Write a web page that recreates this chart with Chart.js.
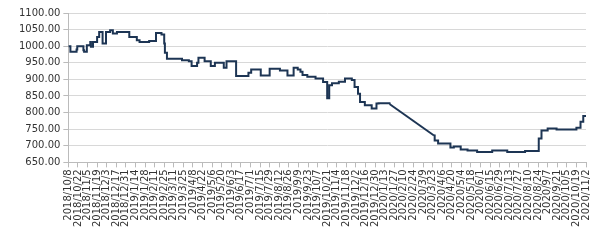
<!DOCTYPE html>
<html>
<head>
<meta charset="utf-8">
<script src="https://cdn.jsdelivr.net/npm/chart.js@4/dist/chart.umd.min.js"></script>
<style>
  html, body { margin: 0; padding: 0; background: #fff; }
  #wrap { width: 600px; height: 243px; position: relative; }
</style>
</head>
<body>
<div id="wrap"><canvas id="priceChart"></canvas></div>
<script>
// Global defaults
Chart.defaults.font.family = 'DejaVu Sans';
Chart.defaults.font.size = 10;
Chart.defaults.color = '#333';

// dates where the price changes level (null value = no data, drawn as a straight line)
const dates = [
    '2018-10-08', '2018-10-11', '2018-10-20', '2018-10-21', '2018-10-30', '2018-10-31',
    '2018-11-04', '2018-11-09', '2018-11-10', '2018-11-13', '2018-11-19', '2018-11-22',
    '2018-11-27', '2018-12-02', '2018-12-08', '2018-12-12', '2018-12-18', '2019-01-05',
    '2019-01-16', '2019-01-20', '2019-02-03', '2019-02-13', '2019-02-21', '2019-02-25',
    '2019-02-26', '2019-03-01', '2019-03-23', '2019-04-02', '2019-04-06', '2019-04-14',
    '2019-04-16', '2019-04-25', '2019-05-04', '2019-05-10', '2019-05-23', '2019-05-27',
    '2019-06-10', '2019-06-28', '2019-07-02', '2019-07-16', '2019-07-29', '2019-08-13',
    '2019-08-24', '2019-09-02', '2019-09-08', '2019-09-12', '2019-09-15', '2019-09-22',
    '2019-10-04', '2019-10-15', '2019-10-21', '2019-10-24', '2019-10-28', '2019-11-07',
    '2019-11-16', '2019-11-26', '2019-11-30', '2019-12-05', '2019-12-08', '2019-12-15',
    '2019-12-25', '2020-01-01', '2020-01-04', '2020-01-20', '2020-02-20', '2020-03-25',
    '2020-03-26', '2020-03-31', '2020-04-18', '2020-04-23', '2020-05-03', '2020-05-13',
    '2020-05-27', '2020-06-18', '2020-07-10', '2020-08-05', '2020-08-25', '2020-08-29',
    '2020-09-07', '2020-09-20', '2020-10-19', '2020-10-25', '2020-10-29', '2020-11-02'
];
const prices = [
    1000, 983, 990, 1000, 988, 983,
    1003, 1013, 998, 1013, 1028, 1043,
    1008, 1043, 1048, 1038, 1043, 1028,
    1018, 1013, 1016, 1040, 1035, 1008,
    980, 962, 958, 955, 940, 950,
    965, 955, 940, 950, 935, 955,
    910, 920, 930, 912, 932, 927,
    912, 935, 930, 923, 913, 908,
    903, 892, 843, 882, 888, 893,
    903, 898, 877, 857, 832, 822,
    812, 827, 828, 826, null, 731,
    716, 707, 695, 698, 689, 686,
    681, 686, 681, 684, 722, 746,
    752, 749, 754, 772, 790, 790
];

const tickLabels = [
    '2018/10/8', '2018/10/22', '2018/11/5', '2018/11/19', '2018/12/3', '2018/12/17', '2018/12/31',
    '2019/1/14', '2019/1/28', '2019/2/11', '2019/2/25', '2019/3/11', '2019/3/25', '2019/4/8',
    '2019/4/22', '2019/5/6', '2019/5/20', '2019/6/3', '2019/6/17', '2019/7/1', '2019/7/15',
    '2019/7/29', '2019/8/12', '2019/8/26', '2019/9/9', '2019/9/23', '2019/10/7', '2019/10/21',
    '2019/11/4', '2019/11/18', '2019/12/2', '2019/12/16', '2019/12/30', '2020/1/13', '2020/1/27',
    '2020/2/10', '2020/2/24', '2020/3/9', '2020/3/23', '2020/4/6', '2020/4/20', '2020/5/4',
    '2020/5/18', '2020/6/1', '2020/6/15', '2020/6/29', '2020/7/13', '2020/7/27', '2020/8/10',
    '2020/8/24', '2020/9/7', '2020/9/21', '2020/10/5', '2020/10/19', '2020/11/2'
];

// days since the first date
function dayOf(str) {
    const p = str.split(/[-\/]/).map(Number);
    const base = Date.UTC(2018, 9, 8);
    return Math.round((Date.UTC(p[0], p[1] - 1, p[2]) - base) / 86400000);
}

const stepPoints = dates.map((d, i) => ({ x: dayOf(d), y: prices[i] }));
const gapIdx = prices.indexOf(null);
const gapLine = [stepPoints[gapIdx - 1], stepPoints[gapIdx + 1]];
const tickDays = tickLabels.map(dayOf);

const lineColor = '#1d3554';

new Chart(document.getElementById('priceChart').getContext('2d'), {
    type: 'line',
    data: {
        datasets: [{
            data: stepPoints,
            stepped: true,
            borderColor: lineColor,
            borderWidth: 2,
            pointRadius: 0,
            spanGaps: false,
        }, {
            data: gapLine,
            borderColor: lineColor,
            borderWidth: 2,
            pointRadius: 0,
            tension: 0,
        }],
    },
    options: {
        responsive: true,
        maintainAspectRatio: false,
        animation: false,
        layout: { padding: { top: 13, right: 6, left: 16, bottom: 14 } },
        plugins: {
            legend: { display: false },
            tooltip: { enabled: false },
        },
        scales: {
            x: {
                type: 'linear',
                min: 0,
                max: tickDays[tickDays.length - 1],
                afterBuildTicks: (scale) => {
                    scale.ticks = tickDays.map(v => ({ value: v }));
                },
                ticks: {
                    autoSkip: false,
                    maxRotation: 90,
                    minRotation: 90,
                    padding: 2,
                    color: '#333',
                    callback: (v) => {
                        const i = tickDays.indexOf(v);
                        return i >= 0 ? tickLabels[i] : '';
                    },
                },
                grid: {
                    drawOnChartArea: false,
                    drawTicks: true,
                    tickLength: 5,
                    color: '#bbb',
                },
                border: { color: '#bbb' },
            },
            y: {
                min: 650,
                max: 1100,
                ticks: {
                    stepSize: 50,
                    padding: 3,
                    color: '#333',
                    callback: (v) => v.toFixed(2),
                },
                grid: {
                    color: '#d8d8d8',
                    tickLength: 5,
                    tickColor: '#bbb',
                },
                border: { color: '#bbb' },
            },
        },
    },
});
</script>
</body>
</html>
